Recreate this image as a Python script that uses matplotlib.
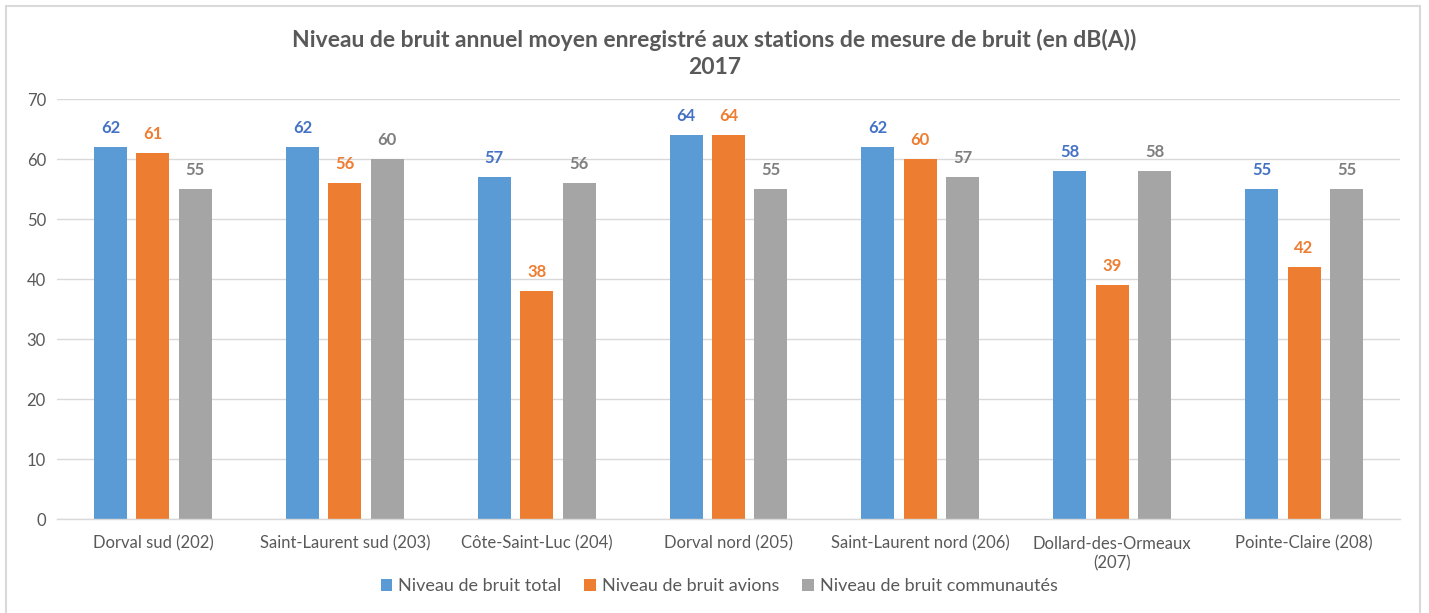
import numpy as np
import matplotlib
matplotlib.use('Agg')
import matplotlib.pyplot as plt
from matplotlib.patches import Rectangle

stations = ['Dorval sud (202)', 'Saint-Laurent sud (203)', 'Côte-Saint-Luc (204)',
            'Dorval nord (205)', 'Saint-Laurent nord (206)', 'Dollard-des-Ormeaux\n(207)',
            'Pointe-Claire (208)']
bruit_total = [62, 62, 57, 64, 62, 58, 55]
bruit_avions = [61, 56, 38, 64, 60, 39, 42]
bruit_communautes = [55, 60, 56, 55, 57, 58, 55]
series_names = ['Niveau de bruit total', 'Niveau de bruit avions', 'Niveau de bruit communautés']

plt.rcParams['font.family'] = ['Lato', 'DejaVu Sans']

bar_colors = ['#5B9BD5', '#ED7D31', '#A5A5A5']
label_colors = ['#4472C4', '#ED7D31', '#7F7F7F']
text_gray = '#595959'

fig = plt.figure(figsize=(14.29, 6.13), dpi=100)
W, H = 1429, 613
ax = fig.add_axes([57 / W, 1 - 519 / H, (1400 - 57) / W, (519 - 99) / H])

x = np.arange(len(stations))
width = 0.172
step = 0.221
all_series = [bruit_total, bruit_avions, bruit_communautes]
for i, vals in enumerate(all_series):
    pos = x + (i - 1) * step
    bars = ax.bar(pos, vals, width, color=bar_colors[i], label=series_names[i], zorder=2)
    for b, v in zip(bars, vals):
        ax.annotate(str(v), (b.get_x() + b.get_width() / 2, v), xytext=(0, 14),
                    textcoords='offset points', ha='center', va='center',
                    fontsize=12, fontweight='bold', color=label_colors[i])

ax.set_xlim(-0.5, len(stations) - 0.5)
ax.set_ylim(0, 70)
ax.set_yticks(range(0, 71, 10))
ax.yaxis.grid(True, color='#D9D9D9', linewidth=1, zorder=0)
ax.set_axisbelow(True)
for s in ['top', 'right', 'left']:
    ax.spines[s].set_visible(False)
ax.spines['bottom'].set_color('#D9D9D9')
ax.spines['bottom'].set_linewidth(1)
ax.tick_params(axis='both', length=0, colors=text_gray, labelsize=12)
ax.tick_params(axis='x', pad=12)
ax.tick_params(axis='y', pad=8)
ax.set_xticks(x)
ax.set_xticklabels(stations, linespacing=1.3)

fig.text(0.5, 1 - 40 / H, 'Niveau de bruit annuel moyen enregistré aux stations de mesure de bruit (en dB(A))',
         ha='center', va='center', fontsize=16.5, fontweight='bold', color=text_gray)
fig.text(0.5, 1 - 68 / H, '2017', ha='center', va='center', fontsize=16.5,
         fontweight='bold', color=text_gray)

fig.legend(loc='center', bbox_to_anchor=(719 / W, 1 - 586 / H), ncol=3, frameon=False,
           fontsize=13, handlelength=0.65, handleheight=0.65, handletextpad=0.3,
           columnspacing=1.3, labelcolor=text_gray)

# cadre du graphique
fig.patches.append(Rectangle((6 / W, -0.05), (1420 - 6) / W, 1 - 6 / H + 0.05,
                             transform=fig.transFigure, fill=False,
                             edgecolor='#D9D9D9', linewidth=1.5))

fig.savefig('out.png', dpi=100, facecolor='white')
